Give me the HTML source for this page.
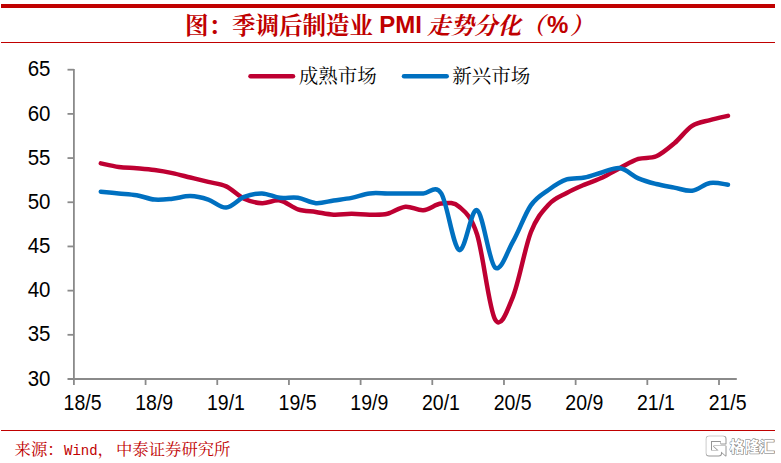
<!DOCTYPE html>
<html><head><meta charset="utf-8"><title>PMI</title>
<style>
html,body{margin:0;padding:0;background:#fff;}
body{width:781px;height:463px;position:relative;overflow:hidden;font-family:"Liberation Sans",sans-serif;}
.t{position:absolute;white-space:nowrap;line-height:1.2;color:transparent;opacity:0;font-family:"Liberation Sans",sans-serif;pointer-events:none;}
</style></head><body>
<svg width="781" height="463" viewBox="0 0 781 463" style="position:absolute;left:0;top:0">
<rect x="1" y="4" width="774" height="4" fill="#c00000"/>
<rect x="1" y="42" width="774" height="1" fill="#c00000"/>
<rect x="1" y="430" width="774" height="1" fill="#c00000"/>
<g stroke="#8a8a8a" stroke-width="1.8" fill="none">
<path d="M73.90 68.90V385"/>
<path d="M67.5 379.00H736.8"/>
<path d="M67.5 69.70H73.90"/>
<path d="M67.5 113.89H73.90"/>
<path d="M67.5 158.07H73.90"/>
<path d="M67.5 202.26H73.90"/>
<path d="M67.5 246.44H73.90"/>
<path d="M67.5 290.63H73.90"/>
<path d="M67.5 334.81H73.90"/>
<path d="M145.58 379.00V385"/>
<path d="M217.26 379.00V385"/>
<path d="M288.93 379.00V385"/>
<path d="M360.61 379.00V385"/>
<path d="M432.29 379.00V385"/>
<path d="M503.97 379.00V385"/>
<path d="M575.64 379.00V385"/>
<path d="M647.32 379.00V385"/>
<path d="M719.00 379.00V385"/>
</g>
<g font-family="Liberation Sans, sans-serif" font-size="20" fill="#000">
<text transform="translate(50.5 76.00) scale(1 1.06)" text-anchor="end" font-size="20.5">65</text>
<text transform="translate(50.5 121.00) scale(1 1.06)" text-anchor="end" font-size="20.5">60</text>
<text transform="translate(50.5 165.00) scale(1 1.06)" text-anchor="end" font-size="20.5">55</text>
<text transform="translate(50.5 209.00) scale(1 1.06)" text-anchor="end" font-size="20.5">50</text>
<text transform="translate(50.5 253.00) scale(1 1.06)" text-anchor="end" font-size="20.5">45</text>
<text transform="translate(50.5 297.00) scale(1 1.06)" text-anchor="end" font-size="20.5">40</text>
<text transform="translate(50.5 341.00) scale(1 1.06)" text-anchor="end" font-size="20.5">35</text>
<text transform="translate(50.5 386.00) scale(1 1.06)" text-anchor="end" font-size="20.5">30</text>
<text transform="translate(82.56 410) scale(0.975 1.08)" text-anchor="middle">18/5</text>
<text transform="translate(154.24 410) scale(0.975 1.08)" text-anchor="middle">18/9</text>
<text transform="translate(225.92 410) scale(0.975 1.08)" text-anchor="middle">19/1</text>
<text transform="translate(297.59 410) scale(0.975 1.08)" text-anchor="middle">19/5</text>
<text transform="translate(369.27 410) scale(0.975 1.08)" text-anchor="middle">19/9</text>
<text transform="translate(440.95 410) scale(0.975 1.08)" text-anchor="middle">20/1</text>
<text transform="translate(512.63 410) scale(0.975 1.08)" text-anchor="middle">20/5</text>
<text transform="translate(584.30 410) scale(0.975 1.08)" text-anchor="middle">20/9</text>
<text transform="translate(655.98 410) scale(0.975 1.08)" text-anchor="middle">21/1</text>
<text transform="translate(727.66 410) scale(0.975 1.08)" text-anchor="middle">21/5</text>
</g>
<g fill="none" stroke-width="4.5" stroke-linecap="round" stroke-linejoin="round">
<path stroke="#be0032" d="M100.78 163.37C103.77 163.96 112.73 166.10 118.70 166.91C124.67 167.72 130.64 167.72 136.62 168.23C142.59 168.75 148.56 169.19 154.54 170.00C160.51 170.81 166.48 171.84 172.46 173.09C178.43 174.35 184.40 176.04 190.38 177.51C196.35 178.99 202.32 180.46 208.30 181.93C214.27 183.40 220.24 183.55 226.22 186.35C232.19 189.15 238.16 195.92 244.13 198.72C250.11 201.52 256.08 202.85 262.05 203.14C268.03 203.44 274.00 199.46 279.97 200.49C285.95 201.52 291.92 207.41 297.89 209.33C303.87 211.24 309.84 211.09 315.81 211.98C321.79 212.86 327.76 214.33 333.73 214.63C339.71 214.92 345.68 213.75 351.65 213.75C357.62 213.75 363.60 214.63 369.57 214.63C375.54 214.63 381.52 215.07 387.49 213.75C393.46 212.42 399.44 207.26 405.41 206.68C411.38 206.09 417.36 210.73 423.33 210.21C429.30 209.70 435.28 204.17 441.25 203.58C447.22 202.99 453.19 201.52 459.17 206.68C465.14 211.83 471.11 215.73 477.09 234.51C483.06 253.29 489.03 308.97 495.01 319.35C500.98 329.73 506.95 311.32 512.93 296.81C518.90 282.31 524.87 247.69 530.85 232.30C536.82 216.91 542.79 211.02 548.77 204.47C554.74 197.91 560.71 196.29 566.68 192.98C572.66 189.66 578.63 187.16 584.60 184.58C590.58 182.01 596.55 180.31 602.52 177.51C608.50 174.71 614.47 170.89 620.44 167.79C626.42 164.70 632.39 160.87 638.36 158.96C644.34 157.04 650.31 158.90 656.28 156.30C662.26 153.71 668.23 148.47 674.20 143.40C680.17 138.34 686.15 129.79 692.12 125.90C698.09 122.02 704.07 121.75 710.04 120.07C716.01 118.39 724.97 116.54 727.96 115.83"/>
<path stroke="#0070c0" d="M100.78 191.65C103.77 191.95 112.73 192.83 118.70 193.42C124.67 194.01 130.64 194.16 136.62 195.19C142.59 196.22 148.56 199.02 154.54 199.61C160.51 200.20 166.48 199.31 172.46 198.72C178.43 198.13 184.40 195.92 190.38 196.07C196.35 196.22 202.32 197.69 208.30 199.61C214.27 201.52 220.24 208.00 226.22 207.56C232.19 207.12 238.16 199.31 244.13 196.95C250.11 194.60 256.08 193.27 262.05 193.42C268.03 193.57 274.00 197.10 279.97 197.84C285.95 198.57 291.92 196.95 297.89 197.84C303.87 198.72 309.84 202.70 315.81 203.14C321.79 203.58 327.76 201.37 333.73 200.49C339.71 199.61 345.68 199.02 351.65 197.84C357.62 196.66 363.60 194.16 369.57 193.42C375.54 192.68 381.52 193.42 387.49 193.42C393.46 193.42 399.44 193.42 405.41 193.42C411.38 193.42 417.36 193.42 423.33 193.42C429.30 193.42 435.28 183.99 441.25 193.42C447.22 202.85 453.19 247.18 459.17 249.98C465.14 252.78 471.11 207.29 477.09 210.21C483.06 213.13 489.03 262.25 495.01 267.48C500.98 272.70 506.95 251.94 512.93 241.58C518.90 231.23 524.87 214.00 530.85 205.35C536.82 196.70 542.79 194.02 548.77 189.71C554.74 185.39 560.71 181.49 566.68 179.46C572.66 177.42 578.63 178.72 584.60 177.51C590.58 176.31 596.55 173.76 602.52 172.21C608.50 170.66 614.47 167.20 620.44 168.23C626.42 169.27 632.39 175.76 638.36 178.40C644.34 181.03 650.31 182.52 656.28 184.05C662.26 185.58 668.23 186.47 674.20 187.59C680.17 188.71 686.15 191.53 692.12 190.77C698.09 190.00 704.07 184.01 710.04 182.99C716.01 181.98 724.97 184.39 727.96 184.67"/>
<path stroke="#be0032" d="M250.5 76.3H293"/>
<path stroke="#0070c0" d="M404 76.3H446.7"/>
</g>
<g font-family="'Liberation Serif', 'Noto Serif CJK SC', serif" font-size="19.5" fill="#000">
<text x="298.8" y="83" textLength="78" lengthAdjust="spacing">成熟市场</text>
<text x="452.3" y="83" textLength="78" lengthAdjust="spacing">新兴市场</text>
</g>
<g font-family="'Liberation Serif', 'Noto Serif CJK SC', serif" font-size="23.5" font-weight="bold" fill="#c00000">
<text x="185" y="33.5">图：</text>
<text x="232" y="33.5" textLength="141" lengthAdjust="spacing">季调后制造业</text>
<text x="427" y="33.5" font-style="italic" textLength="94" lengthAdjust="spacing">走势分化</text>
<text x="521" y="33.5" font-style="italic">（</text>
<text x="570" y="33.5" font-style="italic">）</text>
</g>
<g font-family="Liberation Sans, sans-serif" font-size="24" font-weight="bold" fill="#c00000">
<text x="379.3" y="32.6">PMI</text>
<text x="546.9" y="32.6">%</text>
</g>
<g fill="#c00000">
<text x="14.6" y="455" font-size="16.4" font-family="'Liberation Serif', 'Noto Serif CJK SC', serif">来源：</text>
<text x="64" y="455" font-size="14" font-family="'Liberation Mono', monospace">Wind</text>
<text x="97.5" y="455" font-size="16.4" font-family="'Liberation Serif', 'Noto Serif CJK SC', serif">，</text>
<text x="116" y="455" font-size="16.4" font-family="'Liberation Serif', 'Noto Serif CJK SC', serif" textLength="114.5" lengthAdjust="spacing">中泰证券研究所</text>
</g>
<defs><filter id="wb" x="-10%" y="-20%" width="120%" height="140%"><feGaussianBlur stdDeviation="0.55"/></filter></defs>
<g filter="url(#wb)" fill="none" stroke="#969696" stroke-width="1.5" stroke-linejoin="round" transform="translate(0.25 0.25)">
<path d="M708.8 436.3H723a2.5 2.5 0 0 1 2.5 2.5V443.6H720.8V441H711V450.6H718.6L713.6 446H725.5V455.5L721 451.5V453a2.5 2.5 0 0 1 -2.5 2.5H708.8a2.5 2.5 0 0 1 -2.500 -2.500V438.8a2.500 2.500 0 0 1 2.500 -2.500z"/>
<text x="729.5" y="451.8" font-family="'Liberation Sans', 'Noto Sans CJK SC', sans-serif" font-size="15" font-weight="bold" textLength="45" lengthAdjust="spacing">格隆汇</text>
</g>
<g fill="#fff">
<path d="M708.8 436.3H723a2.5 2.5 0 0 1 2.5 2.5V443.6H720.8V441H711V450.6H718.6L713.6 446H725.5V455.5L721 451.5V453a2.5 2.5 0 0 1 -2.5 2.5H708.8a2.5 2.5 0 0 1 -2.500 -2.500V438.8a2.500 2.500 0 0 1 2.500 -2.500z"/>
<text x="729.5" y="451.8" font-family="'Liberation Sans', 'Noto Sans CJK SC', sans-serif" font-size="15" font-weight="bold" textLength="45" lengthAdjust="spacing">格隆汇</text>
</g>
</svg>
<div class="t" style="left:184px;top:12px;width:410px;font-size:24px;font-weight:bold">图：季调后制造业 PMI 走势分化（%）</div>
<div class="t" style="left:298px;top:64px;font-size:20px">成熟市场</div>
<div class="t" style="left:452px;top:64px;font-size:20px">新兴市场</div>
<div class="t" style="left:14px;top:440px;font-size:16px">来源：Wind，中泰证券研究所</div>
<div class="t" style="left:729px;top:437px;font-size:15px">格隆汇</div>
</body></html>
